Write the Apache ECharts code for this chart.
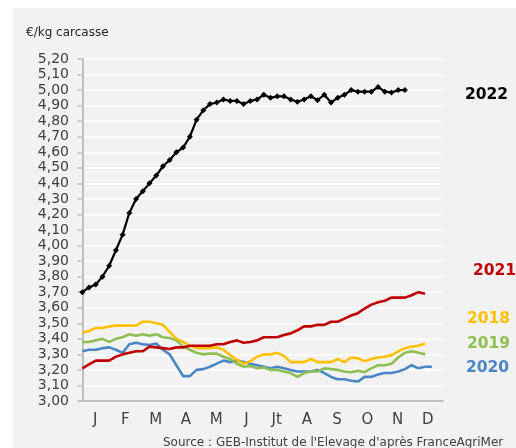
<!DOCTYPE html>
<html>
<head>
<meta charset="utf-8">
<script src="https://cdn.jsdelivr.net/npm/echarts@6/dist/echarts.min.js"></script>
<style>
  html, body { margin: 0; padding: 0; background: #ffffff; }
  #chart { width: 516px; height: 448px; }
</style>
</head>
<body>
<div id="chart"></div>
<script>
// mois affichés sur l'axe
var months = ['J', 'F', 'M', 'A', 'M', 'J', 'Jt', 'A', 'S', 'O', 'N', 'D']

// cotations hebdo, €/kg carcasse
var y2018 = [3.44, 3.45, 3.47, 3.47, 3.48, 3.485, 3.485, 3.485, 3.485, 3.51, 3.51, 3.50, 3.49, 3.445,
  3.40, 3.38, 3.355, 3.34, 3.34, 3.34, 3.345, 3.33, 3.295, 3.265, 3.24, 3.255,
  3.285,
  3.30, 3.30, 3.31, 3.29, 3.25, 3.25, 3.25, 3.27, 3.25, 3.25, 3.25, 3.27, 3.25,
  3.28,
  3.275, 3.255, 3.27, 3.28, 3.285, 3.295, 3.32, 3.34, 3.35, 3.355, 3.37]

var y2019 = [3.38, 3.38, 3.39, 3.40, 3.38, 3.40, 3.41, 3.43, 3.42, 3.43, 3.42, 3.43, 3.41, 3.405,
  3.39, 3.35, 3.33, 3.31, 3.30, 3.305, 3.305, 3.285, 3.27, 3.24, 3.22, 3.225,
  3.21,
  3.215, 3.20, 3.20, 3.19, 3.18, 3.155, 3.18, 3.19, 3.19, 3.21, 3.205, 3.20, 3.19,
  3.185,
  3.195, 3.185, 3.21, 3.23, 3.23, 3.24, 3.28, 3.31, 3.32, 3.31, 3.30]

var y2020 = [3.32, 3.33, 3.33, 3.34, 3.345, 3.33, 3.31, 3.365, 3.375, 3.365, 3.36, 3.37, 3.33, 3.30,
  3.23, 3.16, 3.16, 3.20, 3.205, 3.22, 3.24, 3.26, 3.25, 3.26, 3.25, 3.24,
  3.23,
  3.22, 3.21, 3.22, 3.21, 3.20, 3.19, 3.19, 3.19, 3.20, 3.18, 3.155, 3.14, 3.14,
  3.13,
  3.125, 3.155, 3.155, 3.17, 3.18, 3.18, 3.19, 3.205, 3.23, 3.21, 3.22, 3.22]

var y2021 = [3.21, 3.235, 3.26, 3.26, 3.26, 3.285, 3.30, 3.31, 3.32, 3.32, 3.35, 3.345, 3.34, 3.335,
  3.345, 3.345, 3.355, 3.355, 3.355, 3.355, 3.365, 3.365, 3.38, 3.39, 3.375, 3.38,
  3.39,
  3.41, 3.41, 3.41, 3.425, 3.435, 3.455, 3.48, 3.48, 3.49, 3.49, 3.51, 3.51, 3.53,
  3.55,
  3.565, 3.595, 3.62, 3.635, 3.645, 3.665, 3.665, 3.665, 3.68, 3.70, 3.69]

var y2022 = [3.70, 3.73, 3.75, 3.80, 3.87, 3.97, 4.07, 4.21, 4.30, 4.35, 4.40, 4.45, 4.51, 4.55,
  4.60, 4.63, 4.70, 4.81, 4.87, 4.91, 4.92, 4.94, 4.93, 4.93, 4.91, 4.93, 4.94,
  4.97, 4.95, 4.96, 4.96, 4.94, 4.925, 4.94, 4.96, 4.935, 4.97, 4.92, 4.95, 4.97,
  5.00, 4.99, 4.99, 4.99, 5.02, 4.99, 4.985, 5.00, 5.00]

var chart = echarts.init(document.getElementById('chart'))

function weekly(values) {
  return values.map(function (v, i) { return [i, v] })
}

function yearLine(name, values, color) {
  return {
    name: name,
    type: 'line',
    xAxisIndex: 0,
    data: weekly(values),
    showSymbol: false,
    symbol: 'none',
    lineStyle: { color: color, width: 2.6 },
    z: 2
  }
}

var font = 'DejaVu Sans'
var yearFont = 'bold 15.5px ' + font

var option = {
  backgroundColor: '#ffffff',
  animation: false,
  textStyle: { fontFamily: font },
  grid: { left: 80, right: 73, top: 59, bottom: 47, containLabel: false },
  graphic: [
    {
      type: 'rect', z: -10, silent: true,
      shape: { x: 13, y: 8, width: 503, height: 440 },
      style: { fill: '#f2f2f2' }
    },
    { type: 'text', left: 26, top: 27, style: { text: '€/kg carcasse', fill: '#262626', font: '12px ' + font } },
    { type: 'text', left: 465, top: 87, style: { text: '2022', fill: '#000000', font: yearFont } },
    { type: 'text', left: 473, top: 263, style: { text: '2021', fill: '#c00000', font: yearFont } },
    { type: 'text', left: 467, top: 311, style: { text: '2018', fill: '#ffc000', font: yearFont } },
    { type: 'text', left: 467, top: 336, style: { text: '2019', fill: '#8fbf50', font: yearFont } },
    { type: 'text', left: 466, top: 360, style: { text: '2020', fill: '#4a86c6', font: yearFont } },
    { type: 'text', left: 163, top: 437, style: { text: "Source : GEB-Institut de l'Elevage d'après FranceAgriMer", fill: '#404040', font: '12px ' + font } }
  ],
  xAxis: [
    {
      type: 'value',
      min: -0.34,
      max: 53.66,
      show: false
    },
    {
      type: 'category',
      data: months,
      boundaryGap: true,
      position: 'bottom',
      axisLine: { lineStyle: { color: '#bfbfbf', width: 2 } },
      axisTick: { alignWithLabel: false, length: 5, lineStyle: { color: '#bfbfbf', width: 1.5 } },
      axisLabel: { color: '#404040', fontSize: 15, margin: 12, fontFamily: font },
      splitLine: { show: false }
    }
  ],
  yAxis: {
    type: 'value',
    min: 3,
    max: 5.2,
    interval: 0.1,
    axisLine: { show: true, lineStyle: { color: '#bfbfbf', width: 2 } },
    axisTick: { show: true, length: 5, lineStyle: { color: '#bfbfbf', width: 1.5 } },
    axisLabel: {
      color: '#404040',
      fontSize: 14,
      margin: 11,
      fontFamily: font,
      formatter: function (v) { return v.toFixed(2).replace('.', ',') }
    },
    splitLine: { lineStyle: { color: '#ffffff', width: 1.5 } }
  },
  series: [
    yearLine('2020', y2020, '#4a86c6'),
    yearLine('2019', y2019, '#8fbf50'),
    yearLine('2018', y2018, '#ffc000'),
    yearLine('2021', y2021, '#c00000'),
    {
      name: '2022',
      type: 'line',
      xAxisIndex: 0,
      data: weekly(y2022),
      symbol: 'diamond',
      symbolSize: 6,
      itemStyle: { color: '#000000' },
      lineStyle: { color: '#000000', width: 2.2 },
      z: 3
    }
  ]
}

chart.setOption(option)
</script>
</body>
</html>
